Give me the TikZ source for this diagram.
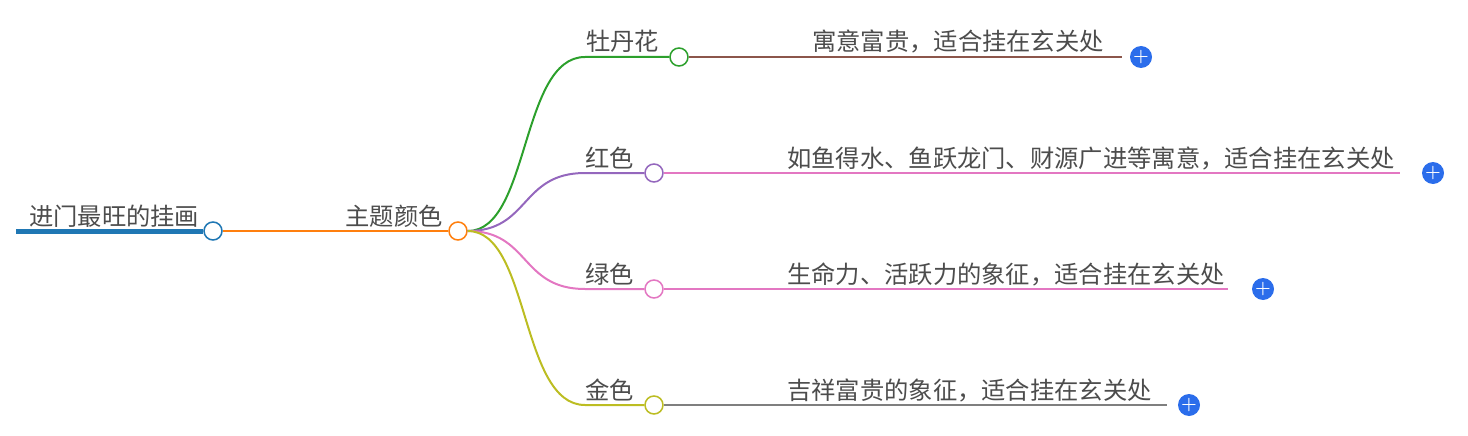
\documentclass[tikz,border=0pt]{standalone}
\usepackage{fontspec}
\usetikzlibrary{calc}
\newfontfamily\cjk{Noto Sans CJK SC}
\begin{document}
\begin{tikzpicture}[x=1pt,y=-1pt,
  lbl/.style={font=\cjk\fontsize{24.3}{25}\selectfont,text=black!70,inner sep=0pt,anchor=base east},
  lf/.style={font=\cjk\fontsize{24.3}{25}\selectfont,text=black!70,inner sep=0pt,anchor=base west},
  dot/.style={circle,draw,fill=white,line width=1.5pt,minimum size=18pt,inner sep=0pt},
  plus/.style={circle,fill=plusb,minimum size=22pt,inner sep=0pt,text=white,font=\bfseries\fontsize{18}{18}\selectfont}]
\definecolor{cb}{HTML}{1F77B4}\definecolor{co}{HTML}{FF7F0E}\definecolor{cg}{HTML}{2CA02C}
\definecolor{cp}{HTML}{9467BD}\definecolor{ck}{HTML}{E377C2}\definecolor{cy}{HTML}{BCBD22}
\definecolor{cbr}{HTML}{8C564B}\definecolor{cgr}{HTML}{7F7F7F}\definecolor{plusb}{HTML}{2B6DEB}
\useasboundingbox (0,0) rectangle (1468,436);
\coordinate (rs) at (16,231);
\node[dot,draw=cb] (root) at (213,231) {};
\draw[cb,line width=5pt] (rs) -- (root.west);
\node[lf] at (29,225) {进门最旺的挂画};
\node[dot,draw=co] (mid) at (458,231) {};
\draw[co,line width=2.5pt] (root.east) -- (mid.west);
\node[lbl] at (443,225) {主题颜色};
\foreach \n/\y/\cx/\c/\t/\lc/\e/\px [count=\i] in {
  a/57/679/cg/牡丹花/cbr/1122/1141,
  b/173/654/cp/红色/ck/1400/1433,
  c/289/654/ck/绿色/ck/1228/1263,
  d/405/654/cy/金色/cgr/1167/1189}{
  \node[dot,draw=\c] (\n) at (\cx,\y) {};
  \draw[\c,line width=2pt] (mid.east) .. controls (530,231) and (520,\y) .. (585,\y) -- (\n.west);
  \node[lbl] at ($(\n.west)+(-10,-6)$) {\t};
  \coordinate (e\n) at (\e,\y);
  \draw[\lc,line width=2pt] (\n.east) -- (e\n);
  \node[plus] (p\n) at (\px,\y) {+};
}
\node[lf] at (812,51) {寓意富贵，适合挂在玄关处};
\node[lf] at (787,167) {如鱼得水、鱼跃龙门、财源广进等寓意，适合挂在玄关处};
\node[lf] at (787,283) {生命力、活跃力的象征，适合挂在玄关处};
\node[lf] at (787,399) {吉祥富贵的象征，适合挂在玄关处};
\end{tikzpicture}
\end{document}
